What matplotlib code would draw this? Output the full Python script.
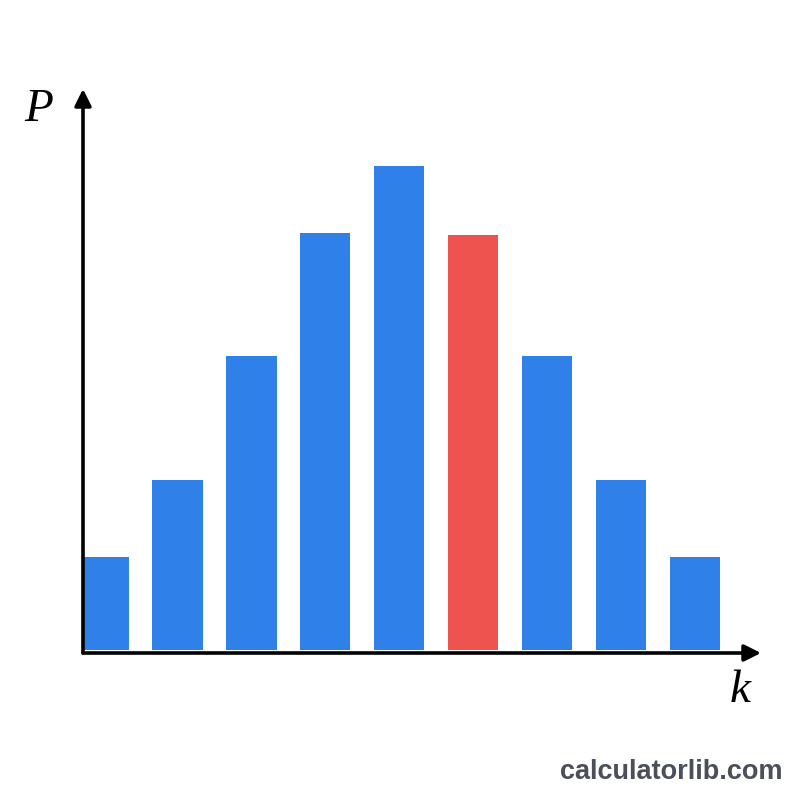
import matplotlib
matplotlib.use("Agg")
import matplotlib.pyplot as plt

# Data
k_values = [0, 1, 2, 3, 4, 5, 6, 7, 8]
probabilities = [0.047, 0.086, 0.149, 0.211, 0.245, 0.210, 0.149, 0.086, 0.047]
highlight_index = 5
x_label = "k"
y_label = "P"
watermark = "calculatorlib.com"

BLUE = "#3080EA"
RED = "#EF5350"

W, H = 800, 800
fig = plt.figure(figsize=(8, 8), dpi=100)
fig.patch.set_facecolor("white")

# axes placement in pixels
ax_left, ax_right = 83, 761
ax_bottom, ax_top = 653, 89
ax = fig.add_axes([ax_left / W, 1 - ax_bottom / H,
                   (ax_right - ax_left) / W, (ax_bottom - ax_top) / H])
ax.set_facecolor("none")

px_per_unit_x = 73.9
xmin = -(103.6 - ax_left) / px_per_unit_x
xmax = xmin + (ax_right - ax_left) / px_per_unit_x
px_per_unit_y = 484 / 0.245
ymin = -3 / px_per_unit_y
ymax = (650 - ax_top) / px_per_unit_y
ax.set_xlim(xmin, xmax)
ax.set_ylim(ymin, ymax)

colors = [RED if i == highlight_index else BLUE for i in range(len(k_values))]
ax.bar(k_values, probabilities, width=0.68, color=colors, linewidth=0, zorder=2)

for s in ax.spines.values():
    s.set_visible(False)
ax.set_xticks([])
ax.set_yticks([])

arrow_kw = dict(arrowstyle="-|>,head_length=1.0,head_width=0.5", color="black",
                lw=2.6, shrinkA=0, shrinkB=0)
ax.annotate("", xy=(0, 1), xytext=(0, 0), xycoords="axes fraction",
            textcoords="axes fraction", arrowprops=arrow_kw, zorder=5)
ax.annotate("", xy=(1, 0), xytext=(0, 0), xycoords="axes fraction",
            textcoords="axes fraction", arrowprops=arrow_kw, zorder=5)

fig.text(38.5 / W, 1 - 110 / H, y_label, fontsize=34, style="italic",
         family="Liberation Serif", ha="center", va="center")
fig.text(740 / W, 1 - 691 / H, x_label, fontsize=34, style="italic",
         family="Liberation Serif", ha="center", va="center")
fig.text(671.5 / W, 1 - 772 / H, watermark, fontsize=19.5, weight="bold",
         family="Liberation Sans", color="#4a4f5a", ha="center", va="center")

fig.savefig("out.png", dpi=100, facecolor="white")
